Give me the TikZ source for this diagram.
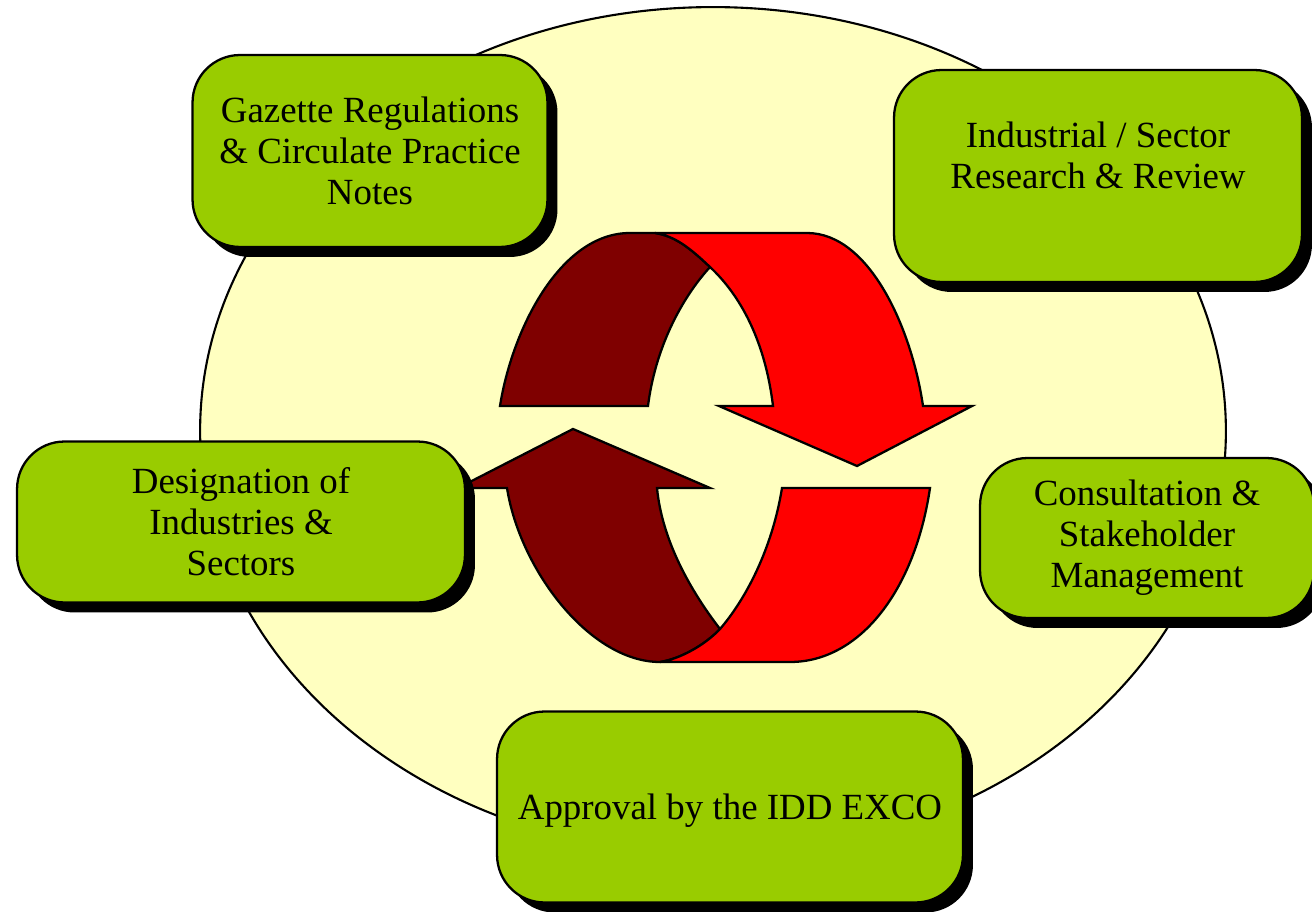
\documentclass[tikz,border=0pt]{standalone}
\usepackage{fontspec}
\setmainfont{Liberation Serif}
\usepackage{xcolor}
\usepackage{tikz}
\usetikzlibrary{shadows}
\definecolor{stagegreen}{HTML}{99CC00}
\definecolor{loopdark}{HTML}{7F0000}
\definecolor{loopred}{HTML}{FF0000}
\definecolor{paleyellow}{HTML}{FFFFC0}
\newcommand{\stagefont}{\fontsize{21}{23.3}\selectfont}
\tikzset{
  stage/.style={draw, line width=1.3pt, rounded corners=0.95cm, fill=stagegreen, align=center, font=\stagefont, inner sep=0pt,
    drop shadow={shadow xshift=2mm, shadow yshift=-2mm, fill=black, opacity=1}},
  backband/.style={draw, line width=1.3pt, fill=loopdark},
  frontband/.style={draw, line width=1.3pt, fill=loopred}}

\begin{document}
\begin{tikzpicture}[x=0.02cm, y=-0.02cm]
  \useasboundingbox (0,0) rectangle (1312,912);
  \draw[line width=1.2pt, fill=paleyellow] (713,431) ellipse [x radius=10.26cm, y radius=8.48cm];

  \draw[backband] (500,406) .. controls (512,330) and (560,233) .. (630,233) -- (655,233)
    .. controls (675,236) and (690,248) .. (710,267) .. controls (680,300) and (655,350) .. (648,406) -- cycle;
  \draw[frontband] (655,233) -- (807,233) .. controls (870,233) and (912,330) .. (923,406) -- (972,406) -- (857,466)
    -- (719,406) -- (773,406) .. controls (765,340) and (740,295) .. (710,267) .. controls (690,248) and (675,236) .. (655,233) -- cycle;
  \draw[backband] (657,488) -- (710,488) -- (573,429) -- (458,488) -- (507,488) .. controls (520,570) and (590,662) .. (660,662)
    .. controls (680,659) and (705,645) .. (720,629) .. controls (690,590) and (662,540) .. (657,488) -- cycle;
  \draw[frontband] (782,488) -- (930,488) .. controls (915,590) and (860,662) .. (790,662) -- (660,662)
    .. controls (680,659) and (705,645) .. (720,629) .. controls (745,600) and (772,550) .. (782,488) -- cycle;

  \node[stage, minimum width=7.1cm, minimum height=3.84cm] (gazette) at (370,151) {Gazette Regulations\\ \& Circulate Practice\\ Notes};
  \node[stage, minimum width=8.16cm, minimum height=4.24cm] (research) at (1098,176) {Industrial / Sector\\ Research \& Review\\ ~};
  \node[stage, minimum width=8.96cm, minimum height=3.22cm] (designation) at (241,522) {Designation of\\ Industries \&\\ Sectors};
  \node[stage, minimum width=6.68cm, minimum height=3.2cm] (consult) at (1147,538) {Consultation \&\\ Stakeholder\\ Management};
  \node[stage, minimum width=9.32cm, minimum height=3.82cm, text depth=0pt] (approval) at (730,807) {Approval by the IDD EXCO};
\end{tikzpicture}
\end{document}
